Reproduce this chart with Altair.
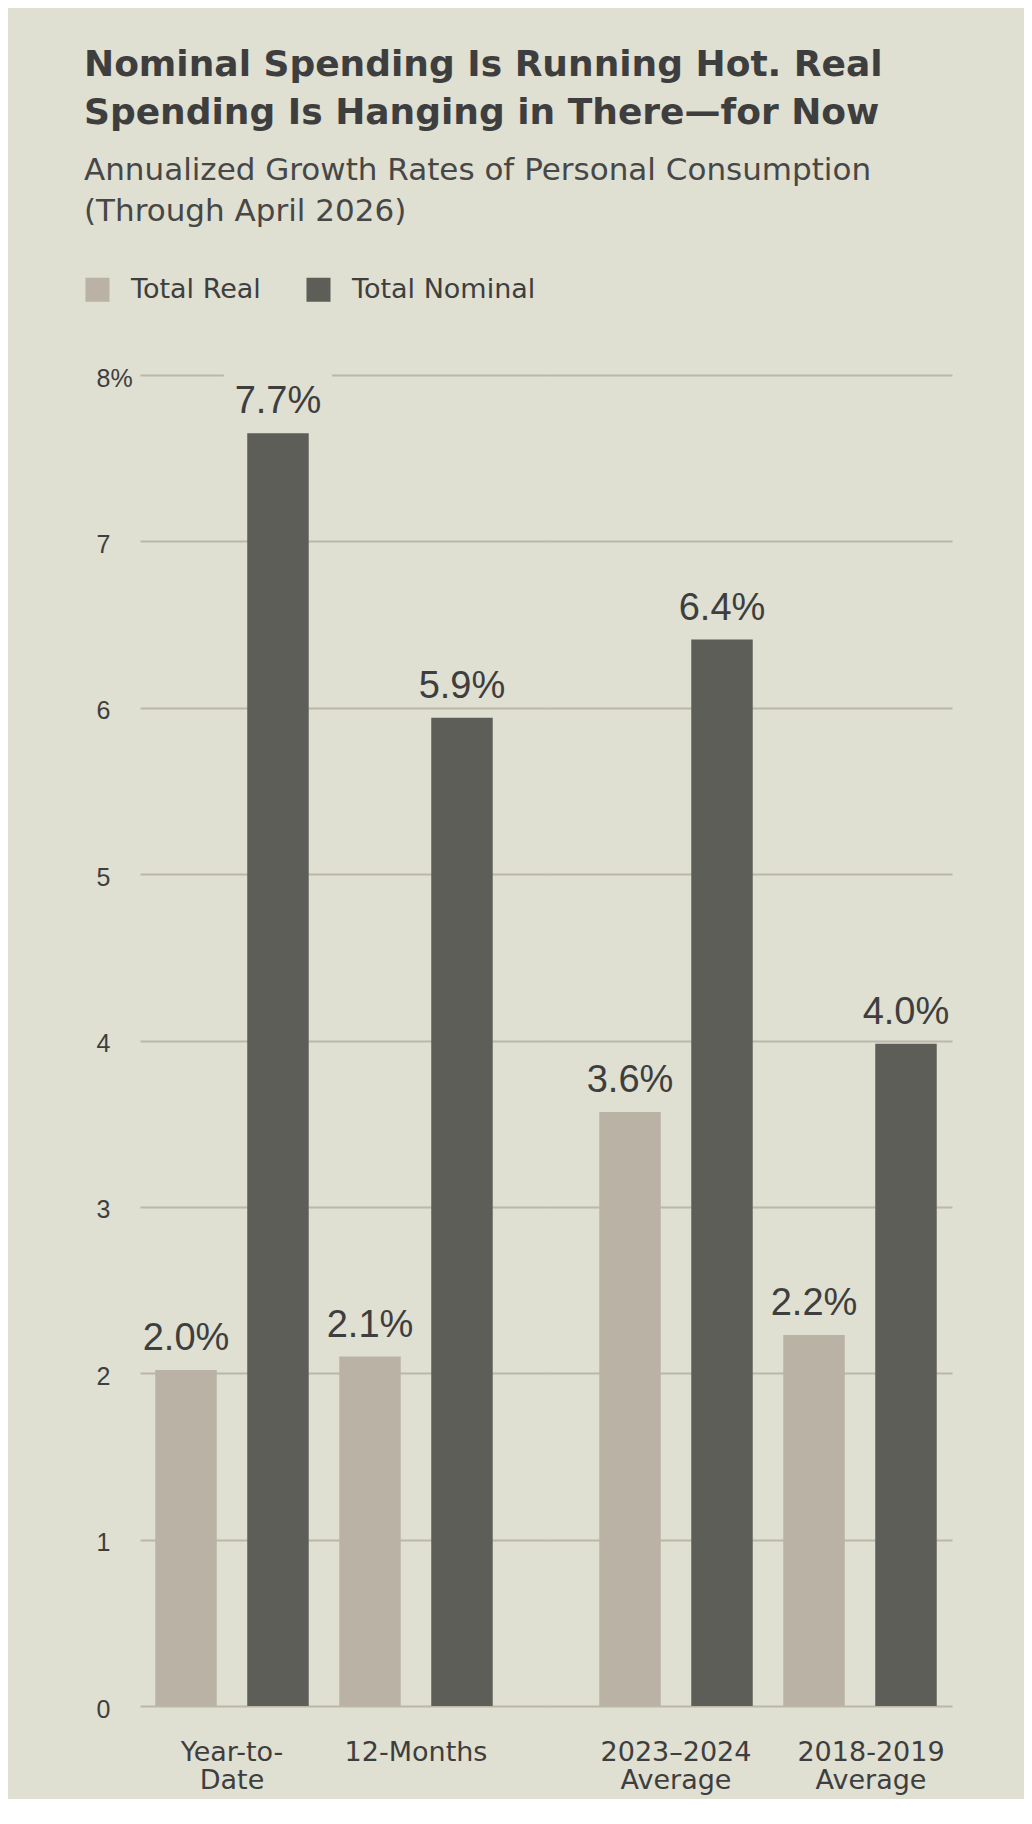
import altair as alt
import pandas as pd

# ---- data ----
groups = ["Year-to-|Date", "12-Months", "2023–2024|Average", "2018-2019|Average"]
series_names = ["Total Real", "Total Nominal"]
real_values = [2.02, 2.10, 3.57, 2.23]
nominal_values = [7.65, 5.94, 6.41, 3.98]
real_labels = ["2.0%", "2.1%", "3.6%", "2.2%"]
nominal_labels = ["7.7%", "5.9%", "6.4%", "4.0%"]
y_ticks = [0, 1, 2, 3, 4, 5, 6, 7, 8]

BG = "#dfdfd2"
REAL_C = "#b9b2a5"
NOM_C = "#5d5e57"
GRID_C = "#bcb7a9"
TEXT_C = "#3e3e3e"

rows = []
for g, rv, nv, rl, nl in zip(groups, real_values, nominal_values, real_labels, nominal_labels):
    rows.append({"group": g, "series": series_names[0], "value": rv, "label": rl})
    rows.append({"group": g, "series": series_names[1], "value": nv, "label": nl})
df = pd.DataFrame(rows)

PANEL_W = 406
PANEL_H = 1331
BOX_SHAPE = "M-1,-0.426L1,-0.426L1,0.426L-1,0.426Z"


def panel(subset, show_y_labels):
    base = alt.Chart(df).transform_filter(
        alt.FieldOneOfPredicate(field="group", oneOf=subset)
    )
    xaxis_kw = dict(
        title=None, labelAngle=0, domain=False, ticks=False, tickSize=0,
        labelPadding=33, labelFont="DejaVu Sans", labelFontSize=27,
        labelColor=TEXT_C, labelLineHeight=28,
        labelExpr="split(datum.label, '|')",
    )
    if not show_y_labels:
        xaxis_kw["labelOffset"] = {"condition": {"test": "datum.index == 1", "value": 11}, "value": 0}
    x = alt.X(
        "group:N",
        sort=subset,
        scale=alt.Scale(domain=subset, paddingInner=0, paddingOuter=0.1033,
                        align=0 if show_y_labels else 1),
        axis=alt.Axis(**xaxis_kw),
    )
    xo = alt.XOffset(
        "series:N",
        sort=series_names,
        scale=alt.Scale(domain=series_names, paddingInner=0.3315, paddingOuter=0.166),
    )
    if show_y_labels:
        yaxis = alt.Axis(
            title=None, values=y_ticks, domain=False, ticks=False, tickSize=0,
            grid=True, gridColor=GRID_C, gridWidth=2,
            labelAlign="left", labelPadding=44, labelBaseline="middle",
            labelOffset=3, labelFont="Liberation Sans", labelFontSize=25,
            labelColor=TEXT_C,
            labelExpr="datum.value == 8 ? '8%' : datum.label",
        )
    else:
        yaxis = alt.Axis(
            title=None, values=y_ticks, domain=False, ticks=False, tickSize=0,
            grid=True, gridColor=GRID_C, gridWidth=2, labels=False,
        )
    y = alt.Y("value:Q", scale=alt.Scale(domain=[0, 8], nice=False, zero=True), axis=yaxis)

    bars = base.mark_bar().encode(
        x=x, xOffset=xo, y=y,
        color=alt.Color(
            "series:N",
            sort=series_names,
            scale=alt.Scale(domain=series_names, range=[REAL_C, NOM_C]),
            legend=alt.Legend(
                title=None, orient="none", legendX=-56, legendY=-99,
                direction="horizontal", symbolType="square", symbolSize=576,
                symbolStrokeWidth=0, labelFont="DejaVu Sans", labelFontSize=27,
                labelColor=TEXT_C, labelOffset=20, columnPadding=44, padding=0,
                labelLimit=500,
            ),
        ),
    )
    box = base.mark_point(
        shape=BOX_SHAPE, size=11664, filled=True, opacity=1, strokeWidth=0,
        color=BG, yOffset=-39,
    ).encode(x=x, xOffset=xo, y=y)
    labels = base.mark_text(
        font="Liberation Sans", fontSize=38, dy=-20, baseline="alphabetic",
        color=TEXT_C,
    ).encode(x=x, xOffset=xo, y=y, text="label:N")
    return alt.layer(bars, box, labels).properties(width=PANEL_W, height=PANEL_H)


left = panel(groups[:2], True)
right = panel(groups[2:], False)

chart = (
    alt.hconcat(left, right, spacing=0)
    .properties(
        padding={"left": 76, "top": 38, "right": 64, "bottom": 6},
        background=BG,
        title=alt.TitleParams(
            text=["Nominal Spending Is Running Hot. Real",
                  "Spending Is Hanging in There—for Now"],
            subtitle=["Annualized Growth Rates of Personal Consumption",
                      "(Through April 2026)"],
            anchor="start", offset=48.5,
            font="DejaVu Sans", fontSize=36, fontWeight="bold", color=TEXT_C,
            lineHeight=48,
            subtitleFont="DejaVu Sans", subtitleFontSize=31, subtitleColor="#474747",
            subtitleLineHeight=41, subtitlePadding=24,
        ),
    )
    .configure_view(stroke=None)
)

chart.save("out.html", embed_options={"renderer": "svg", "actions": False})
